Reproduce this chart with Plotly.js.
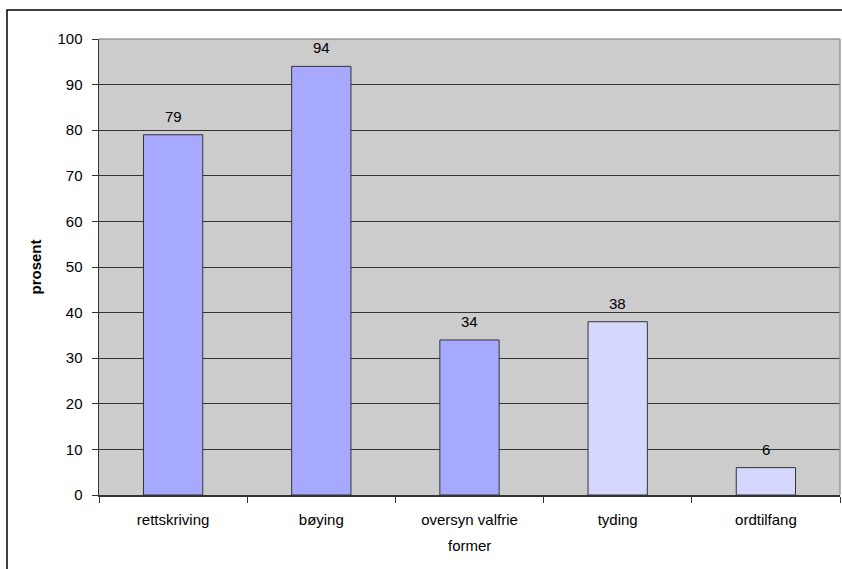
<!DOCTYPE html>
<html>
<head>
<meta charset="utf-8">
<script src="https://cdn.plot.ly/plotly-3.0.1.min.js"></script>
<style>html,body{margin:0;padding:0;background:#fff;}#chart{width:842px;height:569px;}</style>
</head>
<body>
<div id="chart"></div>
<script>
const categories = ["rettskriving", "bøying", "oversyn valfrie former", "tyding", "ordtilfang"];
const tickLabels = ["rettskriving", "bøying", "oversyn valfrie", "tyding", "ordtilfang"];
const secondLines = ["", "", "former", "", ""];
const values = [79, 94, 34, 38, 6];
const barColors = ["#A7A9FF", "#A7A9FF", "#A7A9FF", "#D5D7FF", "#D5D7FF"];
const yTitle = "prosent";

const font = {family: "Liberation Sans, Arial, sans-serif", size: 15, color: "#000"};

const trace = {
  type: "bar",
  x: categories,
  y: values,
  width: 0.4,
  marker: {color: barColors, line: {color: "#333333", width: 1}},
  hoverinfo: "none"
};

const annotations = categories.map((c, i) => ({
  x: c, y: values[i], xref: "x", yref: "y",
  text: String(values[i]), showarrow: false,
  yanchor: "bottom", yshift: 8, font: font
}));
categories.forEach((c, i) => {
  if (secondLines[i]) {
    annotations.push({
      x: c, y: 0, xref: "x", yref: "paper",
      text: secondLines[i], showarrow: false,
      yanchor: "middle", yshift: -50, font: font
    });
  }
});

const L = 99, R = 2, T = 39, B = 74, W = 842, H = 569;
const pw = W - L - R, ph = H - T - B;

const layout = {
  width: W, height: H,
  margin: {l: L, r: R, t: T, b: B, pad: 0},
  paper_bgcolor: "#ffffff",
  plot_bgcolor: "#CCCCCC",
  font: font,
  showlegend: false,
  bargap: 0.6,
  xaxis: {
    type: "category",
    tickmode: "array",
    tickvals: categories,
    ticktext: tickLabels,
    tickson: "boundaries",
    ticks: "outside", ticklen: 6, tickcolor: "#333333", tickwidth: 1,
    ticklabelstandoff: 10,
    showline: true, linecolor: "#333333", linewidth: 1.5,
    showgrid: false, zeroline: false,
    tickfont: font,
    automargin: false
  },
  yaxis: {
    range: [0, 100],
    dtick: 10, tick0: 0,
    ticks: "outside", ticklen: 6, tickcolor: "#333333", tickwidth: 1,
    ticklabelstandoff: 6,
    showline: true, linecolor: "#333333", linewidth: 1.5,
    showgrid: true, gridcolor: "#333333", gridwidth: 1,
    zeroline: false,
    tickfont: font,
    title: {text: yTitle, font: {family: font.family, size: 15, color: "#000", weight: "bold"}, standoff: 12},
    automargin: false
  },
  annotations: annotations,
  shapes: [
    {type: "line", xref: "paper", yref: "paper", x0: 0, x1: 1, y0: 1, y1: 1, line: {color: "#999999", width: 1.5}},
    {type: "line", xref: "paper", yref: "paper", x0: 1, x1: 1, y0: 0, y1: 1, line: {color: "#999999", width: 1.5}},
    {type: "rect", xref: "paper", yref: "paper",
      x0: (7 - L) / pw, x1: (W + 20 - L) / pw,
      y0: -(B + 20) / ph, y1: 1 + (T - 10) / ph,
      line: {color: "#000000", width: 1.5}, fillcolor: "rgba(0,0,0,0)", layer: "below"}
  ]
};

Plotly.newPlot("chart", [trace], layout, {displayModeBar: false, staticPlot: true});
</script>
</body>
</html>
